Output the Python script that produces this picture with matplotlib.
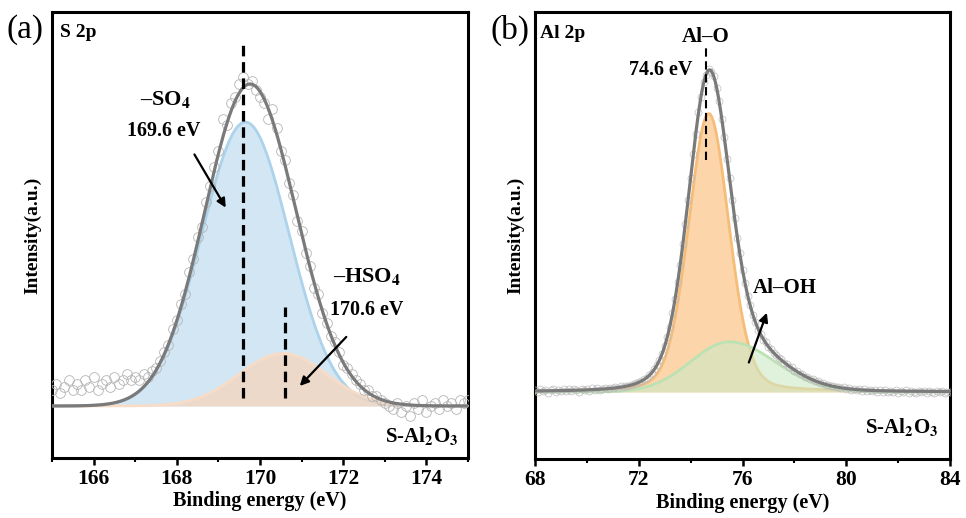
import matplotlib
matplotlib.use('Agg')
import matplotlib.pyplot as plt
import numpy as np

plt.rcParams['font.family'] = 'serif'
plt.rcParams['font.serif'] = ['Liberation Serif', 'DejaVu Serif']
plt.rcParams['font.weight'] = 'bold'
plt.rcParams['mathtext.fontset'] = 'stix'
plt.rcParams['mathtext.default'] = 'bf'

# ---- panel (a): S 2p ----
s2p_start, s2p_stop = 165.0, 175.0
s2p_counts = [
	0.05, 0.07, 0.04, 0.06, 0.08, 0.05, 0.07, 0.05, 0.08, 0.06,
	0.09, 0.05, 0.07, 0.08, 0.06, 0.09, 0.07, 0.08, 0.10, 0.08,
	0.09, 0.08, 0.10, 0.09, 0.11, 0.12, 0.14, 0.17, 0.19, 0.24,
	0.27, 0.32, 0.35, 0.42, 0.46, 0.53, 0.56, 0.64, 0.69, 0.75,
	0.80, 0.90, 0.88, 0.95, 0.97, 1.01, 1.03, 1.01, 1.02, 0.99,
	0.97, 0.95, 0.90, 0.93, 0.87, 0.80, 0.77, 0.70, 0.66, 0.58,
	0.55, 0.48, 0.44, 0.37, 0.35, 0.29, 0.26, 0.22, 0.20, 0.17,
	0.13, 0.12, 0.10, 0.08, 0.07, 0.05, 0.05, 0.03, 0.03, 0.02,
	0.01, 0.00, -0.01, 0.01, -0.02, 0.00, -0.03, 0.01, -0.01, 0.02,
	-0.02, 0.00, 0.01, -0.01, 0.02, 0.00, 0.01, -0.01, 0.02, 0.01,
	0.02,
]
# fitted components (centre, height, sigma)
s2p_names = ['–SO$_4$', '–HSO$_4$']
s2p_centers = [169.65, 170.55]
s2p_heights = [0.89, 0.165]
s2p_sigmas = [1.05, 1.05]
s2p_marks = [169.6, 170.6]

# ---- panel (b): Al 2p ----
al2p_start, al2p_stop = 68.0, 84.0
al2p_counts = [
	0.006, 0.000, 0.008, 0.002, 0.007, -0.002, 0.005, 0.009, 0.001, 0.006,
	0.004, 0.010, 0.002, 0.008, 0.003, 0.009, 0.005, 0.001, 0.010, 0.006,
	0.008, 0.004, 0.011, 0.006, 0.012, 0.007, 0.010, 0.013, 0.008, 0.012,
	0.011, 0.015, 0.013, 0.017, 0.015, 0.019, 0.020, 0.023, 0.024, 0.028,
	0.031, 0.034, 0.040, 0.044, 0.052, 0.058, 0.071, 0.083, 0.100, 0.117,
	0.143, 0.170, 0.201, 0.244, 0.286, 0.340, 0.392, 0.458, 0.520, 0.594,
	0.661, 0.735, 0.798, 0.864, 0.911, 0.957, 0.980, 0.997, 0.989, 0.975,
	0.938, 0.900, 0.843, 0.789, 0.721, 0.662, 0.593, 0.537, 0.476, 0.428,
	0.376, 0.337, 0.296, 0.268, 0.237, 0.217, 0.193, 0.180, 0.162, 0.153,
	0.138, 0.132, 0.119, 0.115, 0.104, 0.101, 0.090, 0.087, 0.077, 0.076,
	0.066, 0.065, 0.056, 0.056, 0.047, 0.047, 0.039, 0.040, 0.033, 0.033,
	0.027, 0.028, 0.022, 0.023, 0.017, 0.019, 0.014, 0.016, 0.011, 0.014,
	0.009, 0.012, 0.007, 0.010, 0.006, 0.009, 0.004, 0.008, 0.003, 0.007,
	0.002, 0.006, 0.000, 0.005, 0.001, 0.006, -0.001, 0.004, 0.000, 0.005,
	-0.002, 0.004, 0.000, 0.005, -0.003, 0.003, 0.001, -0.002, 0.004, -0.001,
	0.003, -0.003, 0.002, 0.000, -0.004, 0.003, -0.001, 0.002, -0.003, 0.001,
	0.000,
]
# Al-O: pseudo-voigt (centre, height, sigma, lorentz fraction)
alo_center, alo_height, alo_sigma, alo_lor = 74.7, 0.86, 0.78, 0.2
# Al-OH: asymmetric gaussian (centre, height, sigma left, sigma right)
aloh_center, aloh_height, aloh_sig_l, aloh_sig_r = 75.5, 0.155, 1.5, 1.75
al2p_marks = [74.6]


def gauss(x, c, h, s):
	return h * np.exp(-(x - c) ** 2 / (2 * s ** 2))


def pseudo_voigt(x, c, h, s, m):
	hw = s * np.sqrt(2 * np.log(2))
	lor = 1 / (1 + ((x - c) / hw) ** 2)
	return h * ((1 - m) * np.exp(-(x - c) ** 2 / (2 * s ** 2)) + m * lor)


def asym_gauss(x, c, h, sl, sr):
	s = np.where(x < c, sl, sr)
	return h * np.exp(-(x - c) ** 2 / (2 * s ** 2))


def style_axis(ax):
	for sp in ax.spines.values():
		sp.set_linewidth(2.2)
	ax.set_yticks([])
	ax.tick_params(axis='x', which='major', direction='out', length=5, width=1.8,
		labelsize=15.5, pad=3)
	ax.tick_params(axis='x', which='minor', direction='out', length=3, width=1.5)
	ax.set_ylabel('Intensity(a.u.)', fontsize=14, fontweight='bold')
	ax.yaxis.set_label_coords(-0.025, 0.5)
	ax.set_xlabel('Binding energy (eV)', fontsize=14.5, fontweight='bold')
	ax.xaxis.set_label_coords(0.5, -0.075)
	for lab in ax.get_xticklabels():
		lab.set_fontweight('bold')


def main():
	fig = plt.figure(figsize=(9.66, 5.18), dpi=100)
	ax1 = fig.add_axes([52 / 966, 60 / 518, 416 / 966, 446 / 518])
	ax2 = fig.add_axes([535 / 966, 59 / 518, 415 / 966, 447 / 518])

	arrow = dict(arrowstyle='-|>', color='k', lw=1.6, mutation_scale=13)

	# panel (a)
	x = np.linspace(s2p_start, s2p_stop, len(s2p_counts))
	xf = np.linspace(s2p_start, s2p_stop, 600)
	so4 = gauss(xf, s2p_centers[0], s2p_heights[0], s2p_sigmas[0])
	hso4 = gauss(xf, s2p_centers[1], s2p_heights[1], s2p_sigmas[1])
	ax1.fill_between(xf, 0, so4, color='#d2e6f4', lw=0, zorder=1)
	ax1.plot(xf, so4, color='#acd3eb', lw=2, zorder=2)
	ax1.fill_between(xf, 0, hso4, color='#f5d5bd', alpha=0.75, lw=0, zorder=3)
	ax1.plot(xf, hso4, color='#f7dcc8', lw=2, zorder=3)
	ax1.plot(x, s2p_counts, 'o', ms=7, mfc='none', mec='#b4b4b4', mew=0.6, zorder=4)
	ax1.plot(xf, so4 + hso4, color='#7a7a7a', lw=2.3, zorder=5)
	ax1.vlines(s2p_marks[0], 0.025, 1.13, colors='k', lw=2.3,
		linestyles=[(0, (3.3, 1.8))], zorder=6)
	ax1.vlines(s2p_marks[1], 0.025, 0.31, colors='k', lw=2.3,
		linestyles=[(0, (3.3, 1.8))], zorder=6)
	ax1.set_xlim(s2p_start, s2p_stop)
	ax1.set_ylim(-0.163, 1.235)
	ax1.set_xticks([166, 168, 170, 172, 174])
	ax1.set_xticks([165, 167, 169, 171, 173, 175], minor=True)
	style_axis(ax1)

	ax1.text(0.019, 0.953, 'S 2p', transform=ax1.transAxes, fontsize=14,
		fontweight='bold', va='center', ha='left')
	ax1.text(0.272, 0.803, s2p_names[0], transform=ax1.transAxes, fontsize=16,
		fontweight='bold', va='center', ha='center')
	ax1.text(0.269, 0.733, f'{s2p_marks[0]} eV', transform=ax1.transAxes,
		fontsize=14.5, fontweight='bold', va='center', ha='center')
	ax1.text(0.757, 0.404, s2p_names[1], transform=ax1.transAxes, fontsize=16,
		fontweight='bold', va='center', ha='center')
	ax1.text(0.757, 0.332, f'{s2p_marks[1]} eV', transform=ax1.transAxes,
		fontsize=14.5, fontweight='bold', va='center', ha='center')
	ax1.annotate('', xy=(0.421, 0.556), xytext=(0.339, 0.686),
		xycoords='axes fraction', arrowprops=arrow, zorder=7)
	ax1.annotate('', xy=(0.591, 0.157), xytext=(0.712, 0.276),
		xycoords='axes fraction', arrowprops=arrow, zorder=7)
	ax1.text(0.976, 0.049, 'S-Al$_2$O$_3$', transform=ax1.transAxes, fontsize=15,
		fontweight='bold', va='center', ha='right')

	# panel (b)
	x = np.linspace(al2p_start, al2p_stop, len(al2p_counts))
	xf = np.linspace(al2p_start, al2p_stop, 800)
	alo = pseudo_voigt(xf, alo_center, alo_height, alo_sigma, alo_lor)
	aloh = asym_gauss(xf, aloh_center, aloh_height, aloh_sig_l, aloh_sig_r)
	ax2.fill_between(xf, 0, alo, color='#fcd5aa', lw=0, zorder=1)
	ax2.plot(xf, alo, color='#f6bd78', lw=2, zorder=2)
	ax2.fill_between(xf, 0, aloh, color='#cdeac6', alpha=0.6, lw=0, zorder=3)
	ax2.plot(xf, aloh, color='#bce2b4', lw=2, zorder=3)
	ax2.plot(x, al2p_counts, 'o', ms=5, mfc='none', mec='#bcbcbc', mew=0.5, zorder=4)
	ax2.plot(xf, alo + aloh, color='#7a7a7a', lw=2.3, zorder=5)
	ax2.vlines(al2p_marks[0], 0.717, 1.063, colors='k', lw=1.5,
		linestyles=[(0, (4, 2.2))], zorder=6)
	ax2.set_xlim(al2p_start, al2p_stop)
	ax2.set_ylim(-0.207, 1.174)
	ax2.set_xticks([68, 72, 76, 80, 84])
	ax2.set_xticks([70, 74, 78, 82], minor=True)
	style_axis(ax2)

	ax2.text(0.012, 0.953, 'Al 2p', transform=ax2.transAxes, fontsize=14,
		fontweight='bold', va='center', ha='left')
	ax2.text(0.412, 0.944, 'Al–O', transform=ax2.transAxes, fontsize=15,
		fontweight='bold', va='center', ha='center')
	ax2.text(0.304, 0.870, f'{al2p_marks[0]} eV', transform=ax2.transAxes,
		fontsize=14.5, fontweight='bold', va='center', ha='center')
	ax2.text(0.602, 0.383, 'Al–OH', transform=ax2.transAxes, fontsize=15,
		fontweight='bold', va='center', ha='center')
	ax2.annotate('', xy=(0.561, 0.333), xytext=(0.513, 0.210),
		xycoords='axes fraction', arrowprops=arrow, zorder=7)
	ax2.text(0.971, 0.072, 'S-Al$_2$O$_3$', transform=ax2.transAxes, fontsize=15,
		fontweight='bold', va='center', ha='right')

	fig.text(7 / 966, 1 - 30 / 518, '(a)', fontsize=24, fontweight='normal',
		va='center', ha='left')
	fig.text(490 / 966, 1 - 30 / 518, '(b)', fontsize=24, fontweight='normal',
		va='center', ha='left')

	fig.savefig('out.png', dpi=100)


if __name__ == '__main__':
	main()
